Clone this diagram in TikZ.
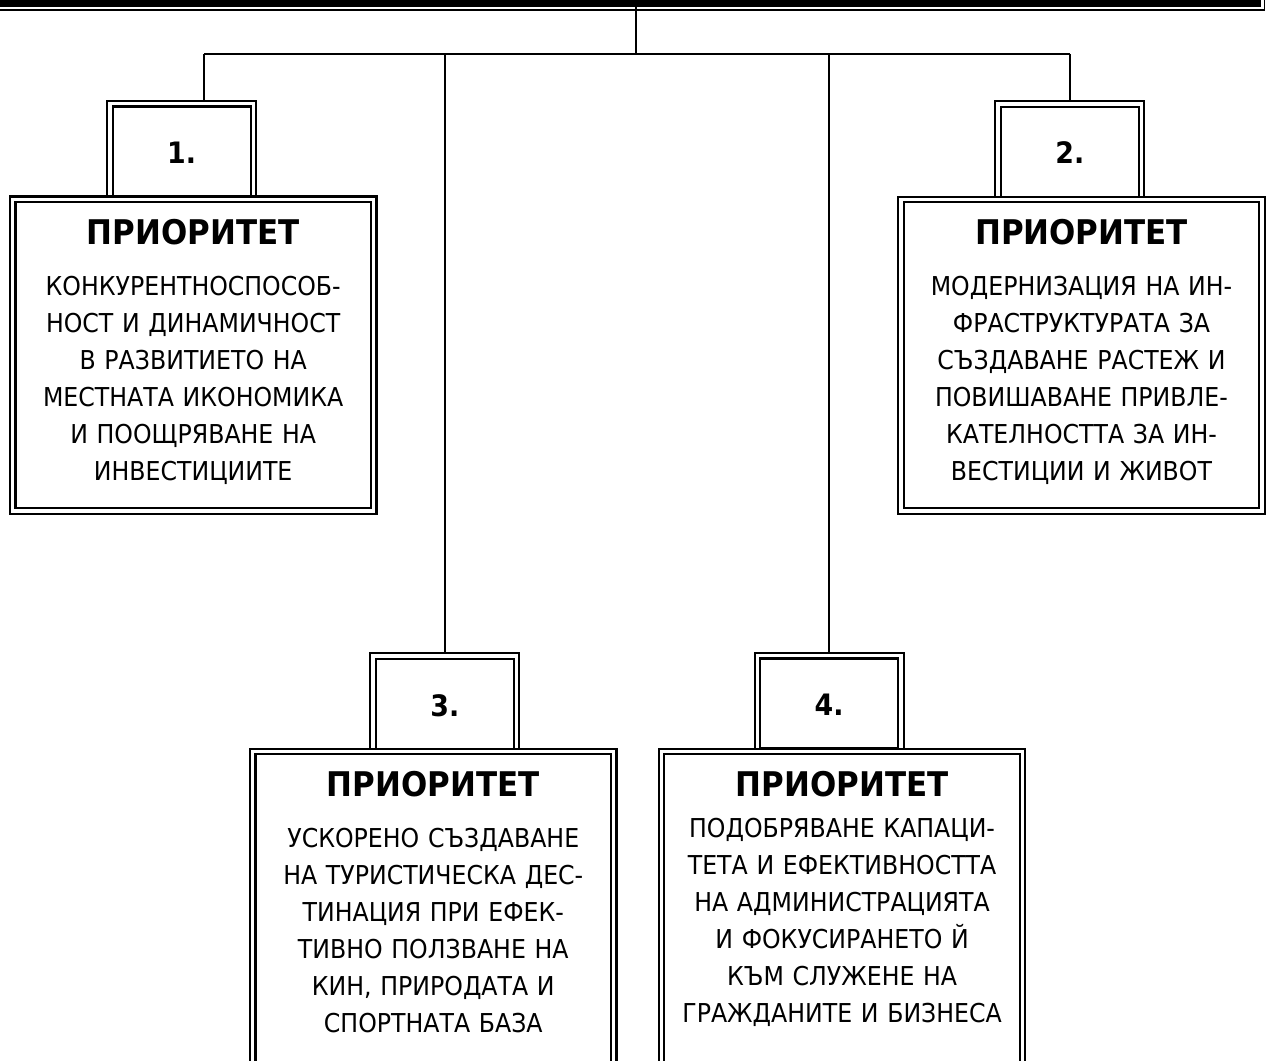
\documentclass[tikz,border=0pt]{standalone}
\usepackage{fontspec}
\setmainfont{DejaVu Sans}[FakeStretch=0.91]
\begin{document}
\begin{tikzpicture}[x=1pt,y=-1pt,
  conn/.style={draw=black, line width=2pt},
  dbox/.style={draw=black, fill=white, double=white, line width=2.2pt, double distance=3.3pt, rectangle, inner sep=0pt},
  mainbox/.style={dbox, minimum width=361pt, anchor=north west},
  numbox/.style={dbox, minimum width=143.5pt, minimum height=95.5pt, anchor=north west},
  hdr/.style={fill=black, rectangle, inner sep=0pt, anchor=south east},
  hdrline/.style={draw=black, line width=1.8pt},
  title/.style={font=\fontsize{34}{40}\selectfont\bfseries, inner sep=0pt, anchor=base},
  numtext/.style={font=\fontsize{29.5}{35}\selectfont\bfseries, inner sep=0pt, anchor=base},
  body/.style={font=\fontsize{26}{37}\selectfont, align=center, inner sep=0pt, text width=356pt, anchor=base}
]
\useasboundingbox (0,0) rectangle (1270,1061);
\clip (0,0) rectangle (1270,1061);

% header bar (cut off by the page top)
\node[hdr, minimum width=1300pt, minimum height=60pt] (header) at (1261.3,7.1) {};
\draw[hdrline] ([yshift=-2.6pt]header.south west) -- ([xshift=3.2pt,yshift=-2.6pt]header.south east) -- ([xshift=3.2pt]header.north east);

% number boxes
\node[numbox] (n1) at (108.8,102.7) {};
\node[numbox] (n2) at (996.9,102.9) {};
\node[numbox] (n3) at (372,655) {};
\node[numbox] (n4) at (756.3,654.7) {};

% connectors
\coordinate (bus) at (636.2,53.8);
\coordinate (c1) at (204.2,53.8);
\draw[conn] (header.south -| bus) -- (bus);
\draw[conn] (c1) -- (n2.north |- bus);
\draw[conn] (c1) -- (c1 |- n1.north);
\draw[conn] (n2.north |- bus) -- (n2.north);
\draw[conn] (n3.north |- bus) -- (n3.north);
\draw[conn] (n4.north |- bus) -- (n4.north);

% redraw number boxes over connector ends
\node[numbox] at (n1.north west) {};
\node[numbox] at (n2.north west) {};
\node[numbox] at (n3.north west) {};
\node[numbox] at (n4.north west) {};

% main boxes
\node[mainbox, minimum height=311.6pt] (p1) at (11.6,198.2) {};
\node[mainbox, minimum height=311.6pt] (p2) at (899.9,198.3) {};
\node[mainbox, minimum height=400pt] (p3) at (251.7,750.5) {};
\node[mainbox, minimum height=400pt] (p4) at (660.5,750.5) {};

% numbers
\node[numtext] (k1) at ([yshift=-61pt]n1.north) {1.};
\node[numtext] (k2) at ([yshift=-61pt]n2.north) {2.};
\node[numtext] (k3) at ([yshift=-61pt]n3.north) {3.};
\node[numtext] (k4) at ([yshift=-61pt]n4.north) {4.};

% titles
\node[title] (t1) at ([yshift=-46pt]p1.north) {ПРИОРИТЕТ};
\node[title] (t2) at ([yshift=-46pt]p2.north) {ПРИОРИТЕТ};
\node[title] (t3) at ([yshift=-46pt]p3.north) {ПРИОРИТЕТ};
\node[title] (t4) at ([yshift=-46pt]p4.north) {ПРИОРИТЕТ};

% bodies
\node[body] (b1) at ([yshift=-97pt]p1.north) {КОНКУРЕНТНОСПОСОБ-\\НОСТ И ДИНАМИЧНОСТ\\В РАЗВИТИЕТО НА\\МЕСТНАТА ИКОНОМИКА\\И ПООЩРЯВАНЕ НА\\ИНВЕСТИЦИИТЕ};
\node[body] (b2) at ([yshift=-97pt]p2.north) {МОДЕРНИЗАЦИЯ НА ИН-\\ФРАСТРУКТУРАТА ЗА\\СЪЗДАВАНЕ РАСТЕЖ И\\ПОВИШАВАНЕ ПРИВЛЕ-\\КАТЕЛНОСТТА ЗА ИН-\\ВЕСТИЦИИ И ЖИВОТ};
\node[body] (b3) at ([yshift=-97pt]p3.north) {УСКОРЕНО СЪЗДАВАНЕ\\НА ТУРИСТИЧЕСКА ДЕС-\\ТИНАЦИЯ ПРИ ЕФЕК-\\ТИВНО ПОЛЗВАНЕ НА\\КИН, ПРИРОДАТА И\\СПОРТНАТА БАЗА};
\node[body] (b4) at ([yshift=-87pt]p4.north) {ПОДОБРЯВАНЕ КАПАЦИ-\\ТЕТА И ЕФЕКТИВНОСТТА\\НА АДМИНИСТРАЦИЯТА\\И ФОКУСИРАНЕТО Й\\КЪМ СЛУЖЕНЕ НА\\ГРАЖДАНИТЕ И БИЗНЕСА};
\end{tikzpicture}
\end{document}
